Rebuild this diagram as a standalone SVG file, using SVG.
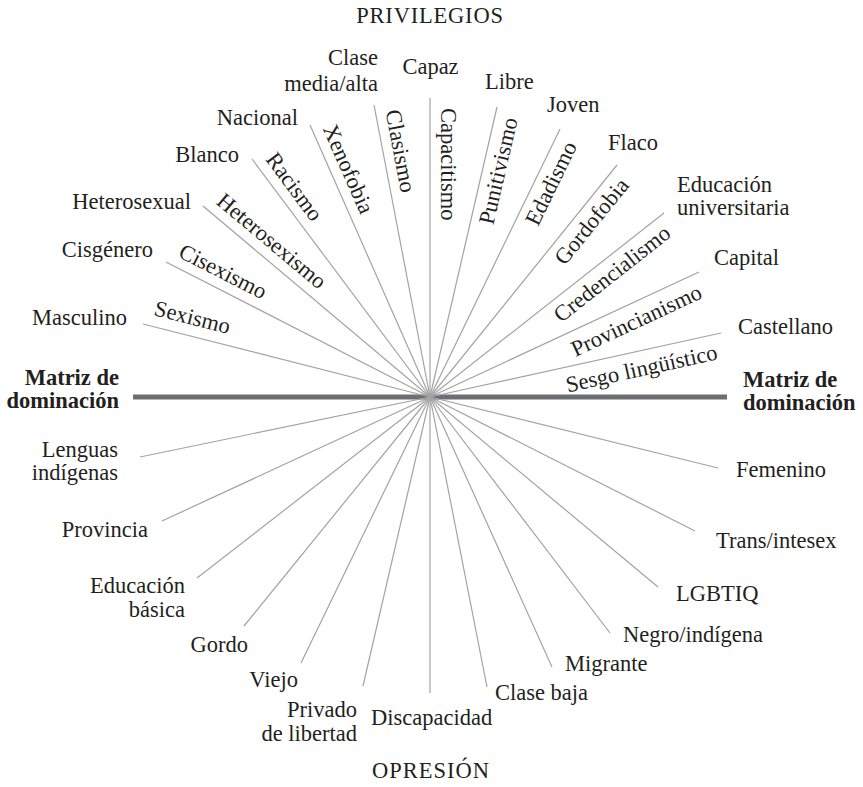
<svg xmlns="http://www.w3.org/2000/svg" width="863" height="787" viewBox="0 0 863 787">
<style>
text{font-family:"Liberation Serif","Times New Roman",serif;font-size:22.5px;fill:#231f20}
.b{font-weight:bold}
.e{text-anchor:end}
.m{text-anchor:middle}
.ray{stroke:#a3a3a3;stroke-width:1.2;fill:none}
.axis{stroke:#6d6e71;stroke-width:5;fill:none}
</style>
<rect width="863" height="787" fill="#ffffff"/>
<g id="connectors">
<line class="axis" x1="133" y1="397" x2="727" y2="397"/>
<g class="ray">
<line x1="430" y1="397" x2="143" y2="324"/>
<line x1="430" y1="397" x2="166" y2="262"/>
<line x1="430" y1="397" x2="203" y2="206"/>
<line x1="430" y1="397" x2="252" y2="159"/>
<line x1="430" y1="397" x2="310" y2="125"/>
<line x1="430" y1="397" x2="374" y2="105"/>
<line x1="430" y1="397" x2="430" y2="98"/>
<line x1="430" y1="397" x2="497" y2="107"/>
<line x1="430" y1="397" x2="560" y2="129"/>
<line x1="430" y1="397" x2="617" y2="165"/>
<line x1="430" y1="397" x2="664" y2="213"/>
<line x1="430" y1="397" x2="699" y2="272"/>
<line x1="430" y1="397" x2="721" y2="333"/>
<line x1="430" y1="397" x2="140" y2="457"/>
<line x1="430" y1="397" x2="162" y2="521"/>
<line x1="430" y1="397" x2="197" y2="578"/>
<line x1="430" y1="397" x2="244" y2="626"/>
<line x1="430" y1="397" x2="301" y2="663"/>
<line x1="430" y1="397" x2="363" y2="686"/>
<line x1="430" y1="397" x2="430" y2="693"/>
<line x1="430" y1="397" x2="487" y2="687"/>
<line x1="430" y1="397" x2="552" y2="667"/>
<line x1="430" y1="397" x2="610" y2="633"/>
<line x1="430" y1="397" x2="658" y2="587"/>
<line x1="430" y1="397" x2="695" y2="531"/>
<line x1="430" y1="397" x2="718" y2="468"/>
</g>
</g>
<g id="titulo-privilegios"><text class="m" x="430" y="23" letter-spacing="0.8">PRIVILEGIOS</text></g>
<g id="titulo-opresion"><text class="m" x="431" y="778" letter-spacing="1">OPRESIÓN</text></g>
<g id="matriz-izq"><text class="b e" x="119" y="385">Matriz de</text><text class="b e" x="119" y="408">dominación</text></g>
<g id="matriz-der"><text class="b" x="743" y="387">Matriz de</text><text class="b" x="743" y="410">dominación</text></g>
<g id="sexismo"><text transform="translate(153,315) rotate(14.27)">Sexismo</text></g>
<g id="cisexismo"><text transform="translate(177.3,256.4) rotate(27.08)">Cisexismo</text></g>
<g id="heterosexismo"><text transform="translate(215.3,203.2) rotate(40.08)">Heterosexismo</text></g>
<g id="racismo"><text transform="translate(264.9,159.6) rotate(53.2)">Racismo</text></g>
<g id="xenofobia"><text transform="translate(322.5,128.6) rotate(66.19)">Xenofobia</text></g>
<g id="clasismo"><text transform="translate(385.4,111.3) rotate(79.14)">Clasismo</text></g>
<g id="capacitismo"><text transform="translate(440.5,108) rotate(90)">Capacitismo</text></g>
<g id="punitivismo"><text class="e" transform="translate(517.7,119.6) rotate(-77)">Punitivismo</text></g>
<g id="edadismo"><text class="e" transform="translate(577.3,146.1) rotate(-64.12)">Edadismo</text></g>
<g id="gordofobia"><text class="e" transform="translate(629.9,185.6) rotate(-51.13)">Gordofobia</text></g>
<g id="credencialismo"><text class="e" transform="translate(672.1,235.9) rotate(-38.18)">Credencialismo</text></g>
<g id="provincianismo"><text class="e" transform="translate(703.5,297.5) rotate(-24.92)">Provincianismo</text></g>
<g id="sesgo-linguistico"><text class="e" transform="translate(718.5,359.2) rotate(-12.41)">Sesgo lingüístico</text></g>
<g id="masculino"><text class="e" x="127" y="325">Masculino</text></g>
<g id="cisgenero"><text class="e" x="153" y="257">Cisgénero</text></g>
<g id="heterosexual"><text class="e" x="191" y="209">Heterosexual</text></g>
<g id="blanco"><text class="e" x="239" y="162">Blanco</text></g>
<g id="nacional"><text class="e" x="298" y="125">Nacional</text></g>
<g id="clase-media-alta"><text class="e" x="378" y="65">Clase</text><text class="e" x="378" y="91">media/alta</text></g>
<g id="capaz"><text class="m" x="430.5" y="74">Capaz</text></g>
<g id="libre"><text x="485" y="89">Libre</text></g>
<g id="joven"><text x="547" y="112">Joven</text></g>
<g id="flaco"><text x="608" y="150">Flaco</text></g>
<g id="educacion-universitaria"><text x="677" y="192">Educación</text><text x="677" y="215">universitaria</text></g>
<g id="capital"><text x="714" y="265">Capital</text></g>
<g id="castellano"><text x="738" y="334">Castellano</text></g>
<g id="lenguas-indigenas"><text class="e" x="118" y="457">Lenguas</text><text class="e" x="118" y="480">indígenas</text></g>
<g id="provincia"><text class="e" x="148" y="537">Provincia</text></g>
<g id="educacion-basica"><text class="e" x="185" y="593">Educación</text><text class="e" x="185" y="617">básica</text></g>
<g id="gordo"><text class="e" x="248" y="652">Gordo</text></g>
<g id="viejo"><text class="e" x="298" y="687">Viejo</text></g>
<g id="privado-de-libertad"><text class="e" x="357" y="717">Privado</text><text class="e" x="357" y="741">de libertad</text></g>
<g id="discapacidad"><text x="371" y="725">Discapacidad</text></g>
<g id="clase-baja"><text x="495" y="700">Clase baja</text></g>
<g id="migrante"><text x="565" y="671">Migrante</text></g>
<g id="negro-indigena"><text x="623" y="642">Negro/indígena</text></g>
<g id="lgbtiq"><text x="676" y="601">LGBTIQ</text></g>
<g id="trans-intesex"><text x="716" y="548">Trans/intesex</text></g>
<g id="femenino"><text x="736" y="477">Femenino</text></g>
</svg>
